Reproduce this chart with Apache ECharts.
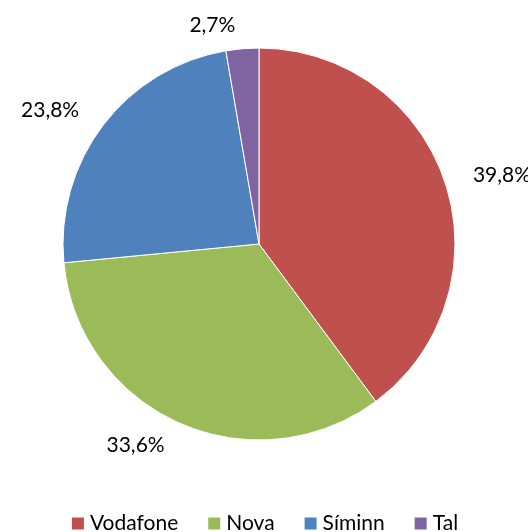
<!DOCTYPE html>
<html>
<head>
<meta charset="utf-8">
<script src="https://cdn.jsdelivr.net/npm/echarts@6/dist/echarts.min.js"></script>
<style>
  html, body { margin: 0; padding: 0; background: #fff; }
  #main { width: 528px; height: 532px; }
</style>
</head>
<body>
<div id="main"></div>
<script>
// values
var names = ['Vodafone', 'Nova', 'Síminn', 'Tal'];
var shares = [39.8, 33.6, 23.8, 2.7];
var colors = ['#C0504D', '#9BBB59', '#4F81BD', '#8064A2'];

var chart = echarts.init(document.getElementById('main'));
var pieData = names.map(function (n, i) {
    return { name: n, value: shares[i], itemStyle: { color: colors[i] } };
});

chart.setOption({
    animation: false,
    textStyle: { fontFamily: 'Lato, "Open Sans", sans-serif' },
    legend: {
        data: names,
        top: 508,
        left: 'center',
        icon: 'rect',
        itemWidth: 14,
        itemHeight: 14,
        itemGap: 28,
        textStyle: { fontSize: 21, color: '#000' }
    },
    series: [{
        type: 'pie',
        center: [259, 244],
        radius: 196,
        startAngle: 90,
        clockwise: true,
        data: pieData,
        itemStyle: { borderColor: '#fff', borderWidth: 1 },
        label: {
            show: true,
            position: 'outside',
            fontSize: 21,
            color: '#000',
            overflow: 'none',
            formatter: function (p) {
                return p.value.toFixed(1).replace('.', ',') + '%';
            }
        },
        labelLine: { show: false, length: 24, length2: 0 },
        emphasis: { disabled: true }
    }]
});
</script>
</body>
</html>
